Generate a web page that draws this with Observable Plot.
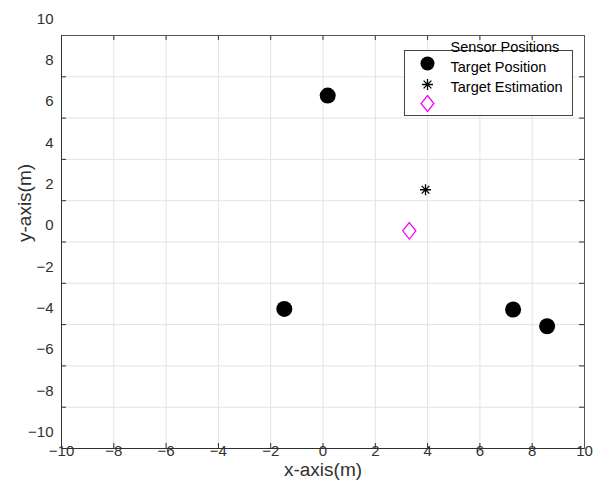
<!DOCTYPE html>
<html>
<head>
<meta charset="utf-8">
<script src="https://cdn.jsdelivr.net/npm/d3@7"></script>
<script src="https://cdn.jsdelivr.net/npm/@observablehq/plot@0.6"></script>
<style>
  html, body { margin: 0; padding: 0; background: #fff; }
  #chart { width: 596px; height: 481px; }
</style>
</head>
<body>
<div id="chart"></div>
<script>
// ---- data ----
const xTicks = [-10, -8, -6, -4, -2, 0, 2, 4, 6, 8, 10];
const yTicks = [-10, -8, -6, -4, -2, 0, 2, 4, 6, 8, 10];
const sensorX = [0.18, -1.48, 7.27, 8.57];
const sensorY = [7.09, -3.24, -3.27, -4.08];
const targetX = [3.92];
const targetY = [2.53];
const estimateX = [3.30];
const estimateY = [0.54];
const legendLabels = ["Sensor Positions", "Target Position", "Target Estimation"];
const xTitle = ["x-axis(m)"];
const yTitle = ["y-axis(m)"];

// ---- custom symbols ----
const asterisk = {
  draw(ctx, size) {
    const r = Math.sqrt(size / Math.PI);
    const d = r * Math.SQRT1_2;
    ctx.moveTo(-r, 0); ctx.lineTo(r, 0);
    ctx.moveTo(0, -r); ctx.lineTo(0, r);
    ctx.moveTo(-d, -d); ctx.lineTo(d, d);
    ctx.moveTo(-d, d); ctx.lineTo(d, -d);
  }
};
const tallDiamond = {
  draw(ctx, size) {
    const r = Math.sqrt(size / Math.PI);
    const w = r * 0.8;
    ctx.moveTo(0, -r); ctx.lineTo(w, 0); ctx.lineTo(0, r); ctx.lineTo(-w, 0); ctx.closePath();
  }
};

const sensors = sensorX.map((x, i) => ({x, y: sensorY[i]}));
const targets = targetX.map((x, i) => ({x, y: targetY[i]}));
const estimates = estimateX.map((x, i) => ({x, y: estimateY[i]}));

const W = 596, H = 481;
const mL = 61, mR = 12, mT = 35, mB = 33;
const pw = W - mL - mR, ph = H - mT - mB;
const font = "'Liberation Sans', Arial, Helvetica, sans-serif";
const ink = "#303030";

const chart = Plot.plot({
  width: W,
  height: H,
  marginLeft: mL,
  marginRight: mR,
  marginTop: mT,
  marginBottom: mB,
  style: {fontFamily: font, fontSize: "15px", background: "#fff", color: ink},
  x: {domain: [-10, 10], label: null},
  y: {domain: [-10, 10], label: null},
  marks: [
    Plot.gridX(xTicks, {stroke: "#e3e3e3", strokeOpacity: 1}),
    Plot.gridY(yTicks, {stroke: "#e3e3e3", strokeOpacity: 1}),
    // inward ticks (MATLAB style)
    Plot.ruleY(yTicks, {stroke: ink, insetRight: pw - 5}),
    Plot.ruleY(yTicks, {stroke: ink, insetLeft: pw - 5}),
    Plot.ruleX(xTicks, {stroke: ink, insetTop: ph - 5}),
    Plot.ruleX(xTicks, {stroke: ink, insetBottom: ph - 5}),
    Plot.frame({stroke: "#555", strokeWidth: 1}),
    Plot.ruleX([-10], {stroke: ink}),
    Plot.ruleY([-10], {stroke: ink}),
    // data
    Plot.dot(sensors, {x: "x", y: "y", r: 8, fill: "black", stroke: "none"}),
    Plot.dot(targets, {x: "x", y: "y", r: 5.5, symbol: asterisk, stroke: "black", strokeWidth: 1.3, fill: "none"}),
    Plot.dot(estimates, {x: "x", y: "y", r: 8.2, symbol: tallDiamond, stroke: "#ff00ff", strokeWidth: 1.3, fill: "none"}),
    // legend
    Plot.frame({insetLeft: 343, insetRight: 12, insetTop: 15, insetBottom: 333, fill: "white", stroke: "#444", strokeWidth: 1}),
    Plot.text([legendLabels[0]], {frameAnchor: "top-left", lineAnchor: "middle", dx: 389, dy: 11.5, textAnchor: "start", fontSize: 14.5, fill: "black"}),
    Plot.text([legendLabels[1]], {frameAnchor: "top-left", lineAnchor: "middle", dx: 389, dy: 32, textAnchor: "start", fontSize: 14.5, fill: "black"}),
    Plot.text([legendLabels[2]], {frameAnchor: "top-left", lineAnchor: "middle", dx: 389, dy: 51.7, textAnchor: "start", fontSize: 14.5, fill: "black"}),
    Plot.dot([0], {frameAnchor: "top-left", dx: 366, dy: 28, r: 7, fill: "black", stroke: "none"}),
    Plot.dot([0], {frameAnchor: "top-left", dx: 366, dy: 49, r: 5.5, symbol: asterisk, stroke: "black", strokeWidth: 1.3, fill: "none"}),
    Plot.dot([0], {frameAnchor: "top-left", dx: 366, dy: 68, r: 8, symbol: tallDiamond, stroke: "#ff00ff", strokeWidth: 1.3, fill: "none"}),
    // axes
    Plot.axisY({ticks: yTicks, tickSize: 0, tickPadding: 8, dy: -16.5, fontSize: 15, fill: ink, label: null}),
    Plot.axisX({ticks: xTicks, tickSize: 0, tickPadding: 0, dy: -3.5, fontSize: 15, fill: ink, label: null}),
    // axis titles
    Plot.text(xTitle, {frameAnchor: "bottom", lineAnchor: "middle", dy: 21, fontSize: 19, fill: ink}),
    Plot.text(yTitle, {frameAnchor: "left", lineAnchor: "middle", dx: -37, rotate: -90, fontSize: 19, fill: ink})
  ]
});
document.getElementById("chart").appendChild(chart);
</script>
</body>
</html>
